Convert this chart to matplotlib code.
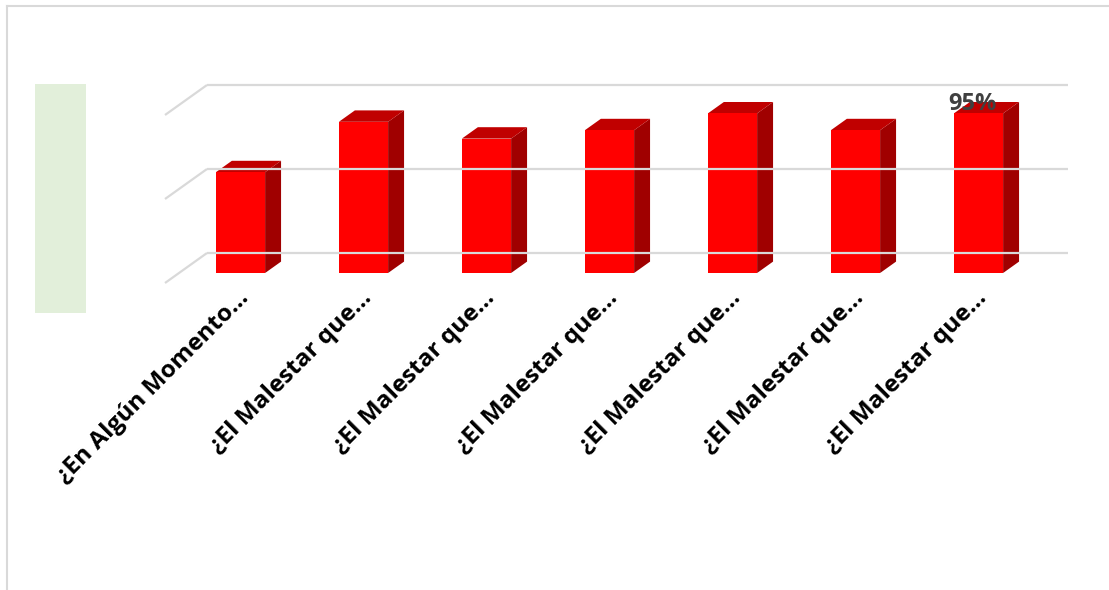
import matplotlib.pyplot as plt
from matplotlib.patches import Polygon, Rectangle
from matplotlib.lines import Line2D

# data
categories = ["¿En Algún Momento…", "¿El Malestar que…", "¿El Malestar que…",
              "¿El Malestar que…", "¿El Malestar que…", "¿El Malestar que…",
              "¿El Malestar que…"]
values = [0.60, 0.90, 0.80, 0.85, 0.95, 0.85, 0.95]
gridvals = [0.0, 0.5, 1.0]
labelled = {6: "95%"}

FRONT = "#ff0000"
TOP = "#c00000"
SIDE = "#a00000"
GRID = "#d9d9d9"

W, H = 1109, 590
fig = plt.figure(figsize=(W / 100, H / 100), dpi=100)
ax = fig.add_axes([0, 0, 1, 1])

# 1 category = 123 px, 1 value unit = 168 px; bar front baseline at (240.5, 317) px
px_x, px_y = 123.0, 168.0
ax.set_xlim(-240.5 / px_x, (W - 240.5) / px_x)
ax.set_ylim(-317 / px_y, (H - 317) / px_y)
ax.axis("off")

# full floor depth vector and plane offsets (data units)
dvx, dvy = 42 / px_x, 30 / px_y
front_d, back_d = -1 / 3, 2 / 3
bar_d = 0.38
bw = 0.4
n = len(values)

# gridlines: back wall + diagonal on the left side wall
x0, x1 = -0.5, n - 0.5
for g in gridvals:
    ax.add_line(Line2D([x0 + back_d * dvx, x1 + back_d * dvx],
                       [g + back_d * dvy, g + back_d * dvy],
                       color=GRID, lw=1.6, solid_capstyle="butt"))
    ax.add_line(Line2D([x0 + front_d * dvx, x0 + back_d * dvx],
                       [g + front_d * dvy, g + back_d * dvy],
                       color=GRID, lw=1.6, solid_capstyle="butt"))

# bars
ox, oy = bar_d * dvx, bar_d * dvy
for i, v in enumerate(values):
    l, r = i - bw / 2, i + bw / 2
    ax.add_patch(Polygon([(r, 0), (r + ox, oy), (r + ox, v + oy), (r, v)],
                         closed=True, facecolor=SIDE, edgecolor="none"))
    ax.add_patch(Polygon([(l, v), (r, v), (r + ox, v + oy), (l + ox, v + oy)],
                         closed=True, facecolor=TOP, edgecolor="none"))
    ax.add_patch(Rectangle((l, 0), bw, v, facecolor=FRONT, edgecolor="none"))
    if i in labelled:
        ax.text(i - 0.05, v + 0.02, labelled[i], ha="center", va="baseline",
                fontsize=17, fontweight="bold", color="#404040",
                family="Open Sans")

# category labels
for i, c in enumerate(categories):
    ax.text(i - 0.03, -0.08, c, rotation=45, rotation_mode="anchor",
            ha="right", va="top", fontsize=17.5, fontweight="bold",
            color="#000000", family="Open Sans")

# green box on the left
fig.patches.append(Rectangle((35 / W, 1 - 313 / H), 51 / W, 229 / H,
                             transform=fig.transFigure, facecolor="#e2efda",
                             edgecolor="none"))

# chart frame (top and left edges visible)
fig.lines.append(Line2D([6.5 / W, 1], [1 - 6 / H, 1 - 6 / H], transform=fig.transFigure,
                        color=GRID, lw=1.5))
fig.lines.append(Line2D([6.5 / W, 6.5 / W], [0, 1 - 6 / H], transform=fig.transFigure,
                        color=GRID, lw=1.5))

fig.savefig("out.png", dpi=100, facecolor="white")
